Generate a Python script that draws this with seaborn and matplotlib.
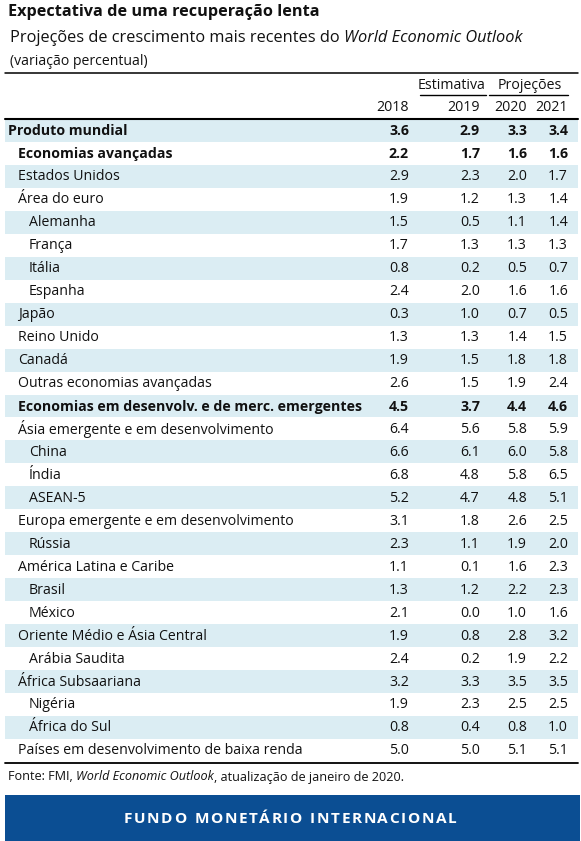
import matplotlib
matplotlib.use("Agg")
import matplotlib.pyplot as plt
import seaborn as sns
import pandas as pd

# ---------------- data ----------------
regions = [
    "Produto mundial", "Economias avançadas", "Estados Unidos", "Área do euro",
    "Alemanha", "França", "Itália", "Espanha", "Japão", "Reino Unido", "Canadá",
    "Outras economias avançadas", "Economias em desenvolv. e de merc. emergentes",
    "Ásia emergente e em desenvolvimento", "China", "Índia", "ASEAN-5",
    "Europa emergente e em desenvolvimento", "Rússia", "América Latina e Caribe",
    "Brasil", "México", "Oriente Médio e Ásia Central", "Arábia Saudita",
    "África Subsaariana", "Nigéria", "África do Sul",
    "Países em desenvolvimento de baixa renda",
]
levels = [0, 1, 1, 1, 2, 2, 2, 2, 1, 1, 1, 1, 1, 1, 2, 2, 2, 1, 2, 1, 2, 2, 1, 2, 1, 2, 2, 1]
bold_rows = [True, True] + [False] * 10 + [True] + [False] * 15
years = ["2018", "2019", "2020", "2021"]
v2018 = [3.6, 2.2, 2.9, 1.9, 1.5, 1.7, 0.8, 2.4, 0.3, 1.3, 1.9, 2.6, 4.5, 6.4, 6.6, 6.8, 5.2,
         3.1, 2.3, 1.1, 1.3, 2.1, 1.9, 2.4, 3.2, 1.9, 0.8, 5.0]
v2019 = [2.9, 1.7, 2.3, 1.2, 0.5, 1.3, 0.2, 2.0, 1.0, 1.3, 1.5, 1.5, 3.7, 5.6, 6.1, 4.8, 4.7,
         1.8, 1.1, 0.1, 1.2, 0.0, 0.8, 0.2, 3.3, 2.3, 0.4, 5.0]
v2020 = [3.3, 1.6, 2.0, 1.3, 1.1, 1.3, 0.5, 1.6, 0.7, 1.4, 1.8, 1.9, 4.4, 5.8, 6.0, 5.8, 4.8,
         2.6, 1.9, 1.6, 2.2, 1.0, 2.8, 1.9, 3.5, 2.5, 0.8, 5.1]
v2021 = [3.4, 1.6, 1.7, 1.4, 1.4, 1.3, 0.7, 1.6, 0.5, 1.5, 1.8, 2.4, 4.6, 5.9, 5.8, 6.5, 5.1,
         2.5, 2.0, 2.3, 2.3, 1.6, 3.2, 2.2, 3.5, 2.5, 1.0, 5.1]
group_labels = ["Estimativa", "Projeções"]

df = pd.DataFrame({"regiao": regions, "2018": v2018, "2019": v2019,
                   "2020": v2020, "2021": v2021})

# ---------------- style ----------------
sns.set_theme(style="white")
FONT = ["Open Sans", "DejaVu Sans"]
plt.rcParams["font.family"] = FONT

W, H = 581, 841
fig = plt.figure(figsize=(W / 100, H / 100), dpi=100)
ax = fig.add_axes([0, 0, 1, 1])
ax.set_xlim(0, W)
ax.set_ylim(H, 0)
ax.axis("off")

SHADE = "#dbedf3"
BLUE = "#0b4e93"
TXT = "#111111"

def px(p):
    return p * 0.72

BODY = px(14.1)

# row geometry
top = 119.0
rh = 22.96
n = len(df)
for i in range(n):
    if i % 2 == 0:
        ax.axhspan(top + i * rh, top + (i + 1) * rh, xmin=5 / W, xmax=578 / W,
                   color=SHADE, lw=0, zorder=0)

# rules
ax.plot([5, 578], [73, 73], color="black", lw=1.1)
ax.plot([5, 578], [118.5, 118.5], color="black", lw=1.5)
ax.plot([5, 578], [762.5, 762.5], color="black", lw=1.3)
ax.plot([420, 486], [95, 95], color="black", lw=1.0)
ax.plot([489, 568], [95, 95], color="black", lw=1.0)

# titles
ax.text(8, 12, "Expectativa de uma recuperação lenta", fontsize=px(16.2),
        fontweight="bold", color=TXT, va="center", ha="left")

fig.canvas.draw()
r = fig.canvas.get_renderer()

def chain(x, y, parts, size, color=TXT):
    for s, style in parts:
        t = ax.text(x, y, s, fontsize=size, fontstyle=style, color=color,
                    va="center", ha="left")
        bb = t.get_window_extent(renderer=r)
        x += bb.width
    return x

chain(10, 38, [("Projeções de crescimento mais recentes do ", "normal"),
               ("World Economic Outlook", "italic")], px(16.4))
ax.text(10, 61, "(variação percentual)", fontsize=px(14.0), color=TXT,
        va="center", ha="left")

# column headers
col_x = [409, 480, 527, 568]
ax.text(452, 85, group_labels[0], fontsize=BODY, color=TXT, ha="center", va="center")
ax.text(530, 85, group_labels[1], fontsize=BODY, color=TXT, ha="center", va="center")
for x, yr in zip(col_x, years):
    ax.text(x, 107.5, yr, fontsize=BODY, color=TXT, ha="right", va="center")

# body
indent = {0: 8, 1: 18, 2: 29}
for i, row in df.iterrows():
    yc = top + (i + 0.5) * rh + 0.5
    w = "bold" if bold_rows[i] else "normal"
    ax.text(indent[levels[i]], yc, row["regiao"], fontsize=BODY, fontweight=w,
            color=TXT, ha="left", va="center")
    for x, yr in zip(col_x, years):
        ax.text(x, yc, f"{row[yr]:.1f}", fontsize=BODY, fontweight=w,
                color=TXT, ha="right", va="center")

# footer
chain(8, 777, [("Fonte: FMI, ", "normal"), ("World Economic Outlook", "italic"),
               (", atualização de janeiro de 2020.", "normal")], px(12.6))

ax.add_patch(plt.Rectangle((5, 795), 575, 46, color=BLUE, lw=0, zorder=0))

# banner text with slight letter tracking, centred
banner = "FUNDO MONETÁRIO INTERNACIONAL"
bsize = px(15.4)
track = 1.6
widths = []
for ch in banner:
    t = ax.text(0, 0, ch if ch != " " else "a", fontsize=bsize, fontweight="bold")
    widths.append(t.get_window_extent(renderer=r).width if ch != " " else 5.0)
    t.remove()
total = sum(widths) + track * (len(banner) - 1)
x = 290 - total / 2
for ch, wd in zip(banner, widths):
    if ch != " ":
        ax.text(x, 819, ch, fontsize=bsize, fontweight="bold", color="white",
                ha="left", va="center")
    x += wd + track

fig.savefig("out.png", dpi=100)
